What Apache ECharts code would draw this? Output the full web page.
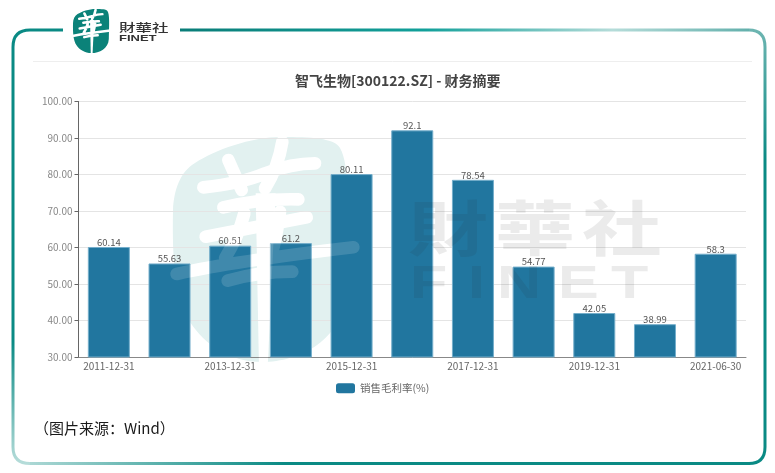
<!DOCTYPE html>
<html>
<head>
<meta charset="utf-8">
<style>html,body{margin:0;padding:0;background:#fff}#c{width:775px;height:473px}</style>
<script src="https://cdn.jsdelivr.net/npm/echarts@6/dist/echarts.min.js"></script>
</head>
<body>
<div id="c"></div>
<script>
const categories = ['2011-12-31','2012-12-31','2013-12-31','2014-12-31','2015-12-31','2016-12-31','2017-12-31','2018-12-31','2019-12-31','2020-12-31','2021-06-30'];
const grossMargin = [60.14,55.63,60.51,61.2,80.11,92.1,78.54,54.77,42.05,38.99,58.3];
const seriesName = '销售毛利率(%)';
const titleText = '智飞生物[300122.SZ] - 财务摘要';
const captionText = '（图片来源：Wind）';

const CJK = '"Noto Sans CJK SC","Noto Sans",sans-serif';
const TC = '"Noto Sans CJK TC","Noto Sans",sans-serif';
const teal = '#0a8a84', light = '#b5dcd9';
const lin = (x, y, x2, y2, stops) => new echarts.graphic.LinearGradient(x, y, x2, y2, stops.map(s => ({offset: s[0], color: s[1]})), true);
let shapeId = 0;
const pathShape = d => { const n = 'deco' + (shapeId++); echarts.graphic.registerShape(n, echarts.graphic.extendPath(d, {})); return n; };
const blobShape = pathShape('M195 163 C215 150 250 137 282 137 C310 137 335 138 340 148 C350 165 348 210 346 290 C344 340 300 362 262 362 C230 362 205 345 190 322 C175 300 172 260 173 210 C174 190 180 172 195 163 Z');
const glyphStrokes = pathShape('M190 90 L230 180 M115 172 Q230 160 300 130 Q380 100 450 100 M352 35 Q340 110 300 175 M175 232 Q290 205 400 208 M238 250 Q220 320 180 385 M345 245 Q335 320 318 380 M122 320 Q250 295 425 262 M35 432 Q200 395 565 352 M188 452 Q280 425 382 425');
const glyphStem = pathShape('M272 190 L332 190 L308 712 L282 712 Z');
const framePart = (d, stroke) => ({type: pathShape(d), z: 1, silent: true, style: {fill: null, stroke, lineWidth: 3}});
const txt = (text, x, y, font, extra, z) => Object.assign({type: 'text', silent: true, z: z, x, y, style: {text, fontFamily: font.f, fontSize: font.s, fontWeight: font.w, fill: font.c, verticalAlign: 'middle'}}, extra || {});
const glyph = (color, z, x, y, sx, sy) => [
  {type: glyphStrokes, z, silent: true, x, y, scaleX: sx, scaleY: sy, style: {fill: null, stroke: color, lineWidth: 38, lineCap: 'round', lineJoin: 'round'}},
  {type: glyphStem, z, silent: true, x, y, scaleX: sx, scaleY: sy, style: {fill: color}}
];

const wmGray = {f: TC, s: 80, w: 700, c: 'rgba(40,40,40,0.095)'};
const wmLat = {f: '"Liberation Sans",sans-serif', s: 47, w: 700, c: 'rgba(40,40,40,0.095)'};
const squash = {scaleY: 0.76};
const widen = {scaleX: 1.3};

const graphics = [
  // frame
  framePart('M63 30 L30 30 Q13 30 13 47 L13 447 Q13 463.5 30 463.5', lin(0, 30, 0, 463, [[0, teal], [0.72, teal], [1, light]])),
  framePart('M30 463.5 L749 463.5 Q765 463.5 765 447', lin(14, 0, 765, 0, [[0, light], [0.36, teal], [1, teal]])),
  framePart('M765 447 L765 47 Q765 30 749 30', lin(0, 30, 0, 463, [[0, '#6db5b1'], [0.3, teal], [1, teal]])),
  framePart('M749 30 L180 30', lin(180, 0, 765, 0, [[0, '#0a7d78'], [0.42, '#12a09a'], [0.74, light], [1, '#5aaba7']])),
  // separator
  {type: 'line', z: -5, silent: true, shape: {x1: 33, y1: 61.5, x2: 752, y2: 61.5}, style: {stroke: '#eeeeee', lineWidth: 1}},
  // logo
  {type: blobShape, z: 3, silent: true, x: 73 - 173 * 0.207, y: 9 - 137 * 0.196, scaleX: 0.207, scaleY: 0.196, style: {fill: '#0b8279'}},
  ...glyph('#ffffff', 4, 71.3, 7.6, 0.069, 0.0653),
  txt('財華社', 119, 27.5, {f: TC, s: 16.5, w: 500, c: '#333333'}, {scaleY: 0.72}, 4),
  txt('FINET', 119, 38.5, {f: '"Liberation Sans",sans-serif', s: 10, w: 700, c: '#333333'}, {scaleX: 1.3, scaleY: 0.85}, 4),
  // watermark beneath chart
  {type: blobShape, z: -10, silent: true, style: {fill: '#e2f1f0'}},
  ...glyph('#ffffff', -9, 165, 130, 1 / 3, 1 / 3),
  // watermark veil above chart
  ...glyph('rgba(255,255,255,0.14)', 20, 165, 130, 1 / 3, 1 / 3),
  txt('財', 408, 227.5, wmGray, squash, 20),
  txt('華', 495, 227.5, wmGray, squash, 20),
  txt('社', 582, 227.5, wmGray, squash, 20),
  txt('F', 410, 285, wmLat, widen, 20),
  txt('I', 468, 285, wmLat, widen, 20),
  txt('N', 497, 285, wmLat, widen, 20),
  txt('E', 558, 285, wmLat, widen, 20),
  txt('T', 611, 285, wmLat, widen, 20),
  // caption
  txt(captionText, 34, 428, {f: CJK, s: 15, w: 400, c: '#1a1a1a'}, null, 4)
];

const chart = echarts.init(document.getElementById('c'), null, {renderer: 'canvas'});
chart.setOption({
  animation: false,
  backgroundColor: 'transparent',
  title: {text: titleText, left: 290, top: 69, textStyle: {fontFamily: CJK, fontSize: 14, fontWeight: 700, color: '#444'}},
  grid: {left: 78.5, right: 29, top: 101.5, bottom: 116, containLabel: false},
  legend: {
    data: [seriesName], left: 331, top: 378, itemWidth: 19, itemHeight: 10, itemGap: 7,
    textStyle: {fontFamily: CJK, fontSize: 10.5, color: '#666'},
    itemStyle: {borderWidth: 0}
  },
  xAxis: {
    type: 'category', data: categories,
    axisLine: {lineStyle: {color: '#888', width: 1}},
    axisTick: {alignWithLabel: true, interval: 1, length: 4, lineStyle: {color: '#666'}},
    axisLabel: {interval: 1, color: '#666', fontFamily: CJK, fontSize: 10, margin: 4.5, hideOverlap: false},
    splitLine: {show: false}
  },
  yAxis: {
    type: 'value', min: 30, max: 100, interval: 10,
    axisLine: {show: true, lineStyle: {color: '#666', width: 1}},
    axisTick: {show: true, length: 4, lineStyle: {color: '#666'}},
    axisLabel: {color: '#888', fontFamily: CJK, fontSize: 10, margin: 6, formatter: v => v.toFixed(2)},
    splitLine: {lineStyle: {color: '#e4e4e4', width: 1}}
  },
  series: [{
    type: 'bar', name: seriesName, data: grossMargin, barWidth: 42, z: 2,
    itemStyle: {color: '#21769f', borderColor: '#74aecb', borderWidth: 1},
    label: {show: true, position: 'top', distance: 0, fontFamily: CJK, fontSize: 9.5, color: '#555'}
  }],
  graphic: {elements: graphics}
});
</script>
</body>
</html>
